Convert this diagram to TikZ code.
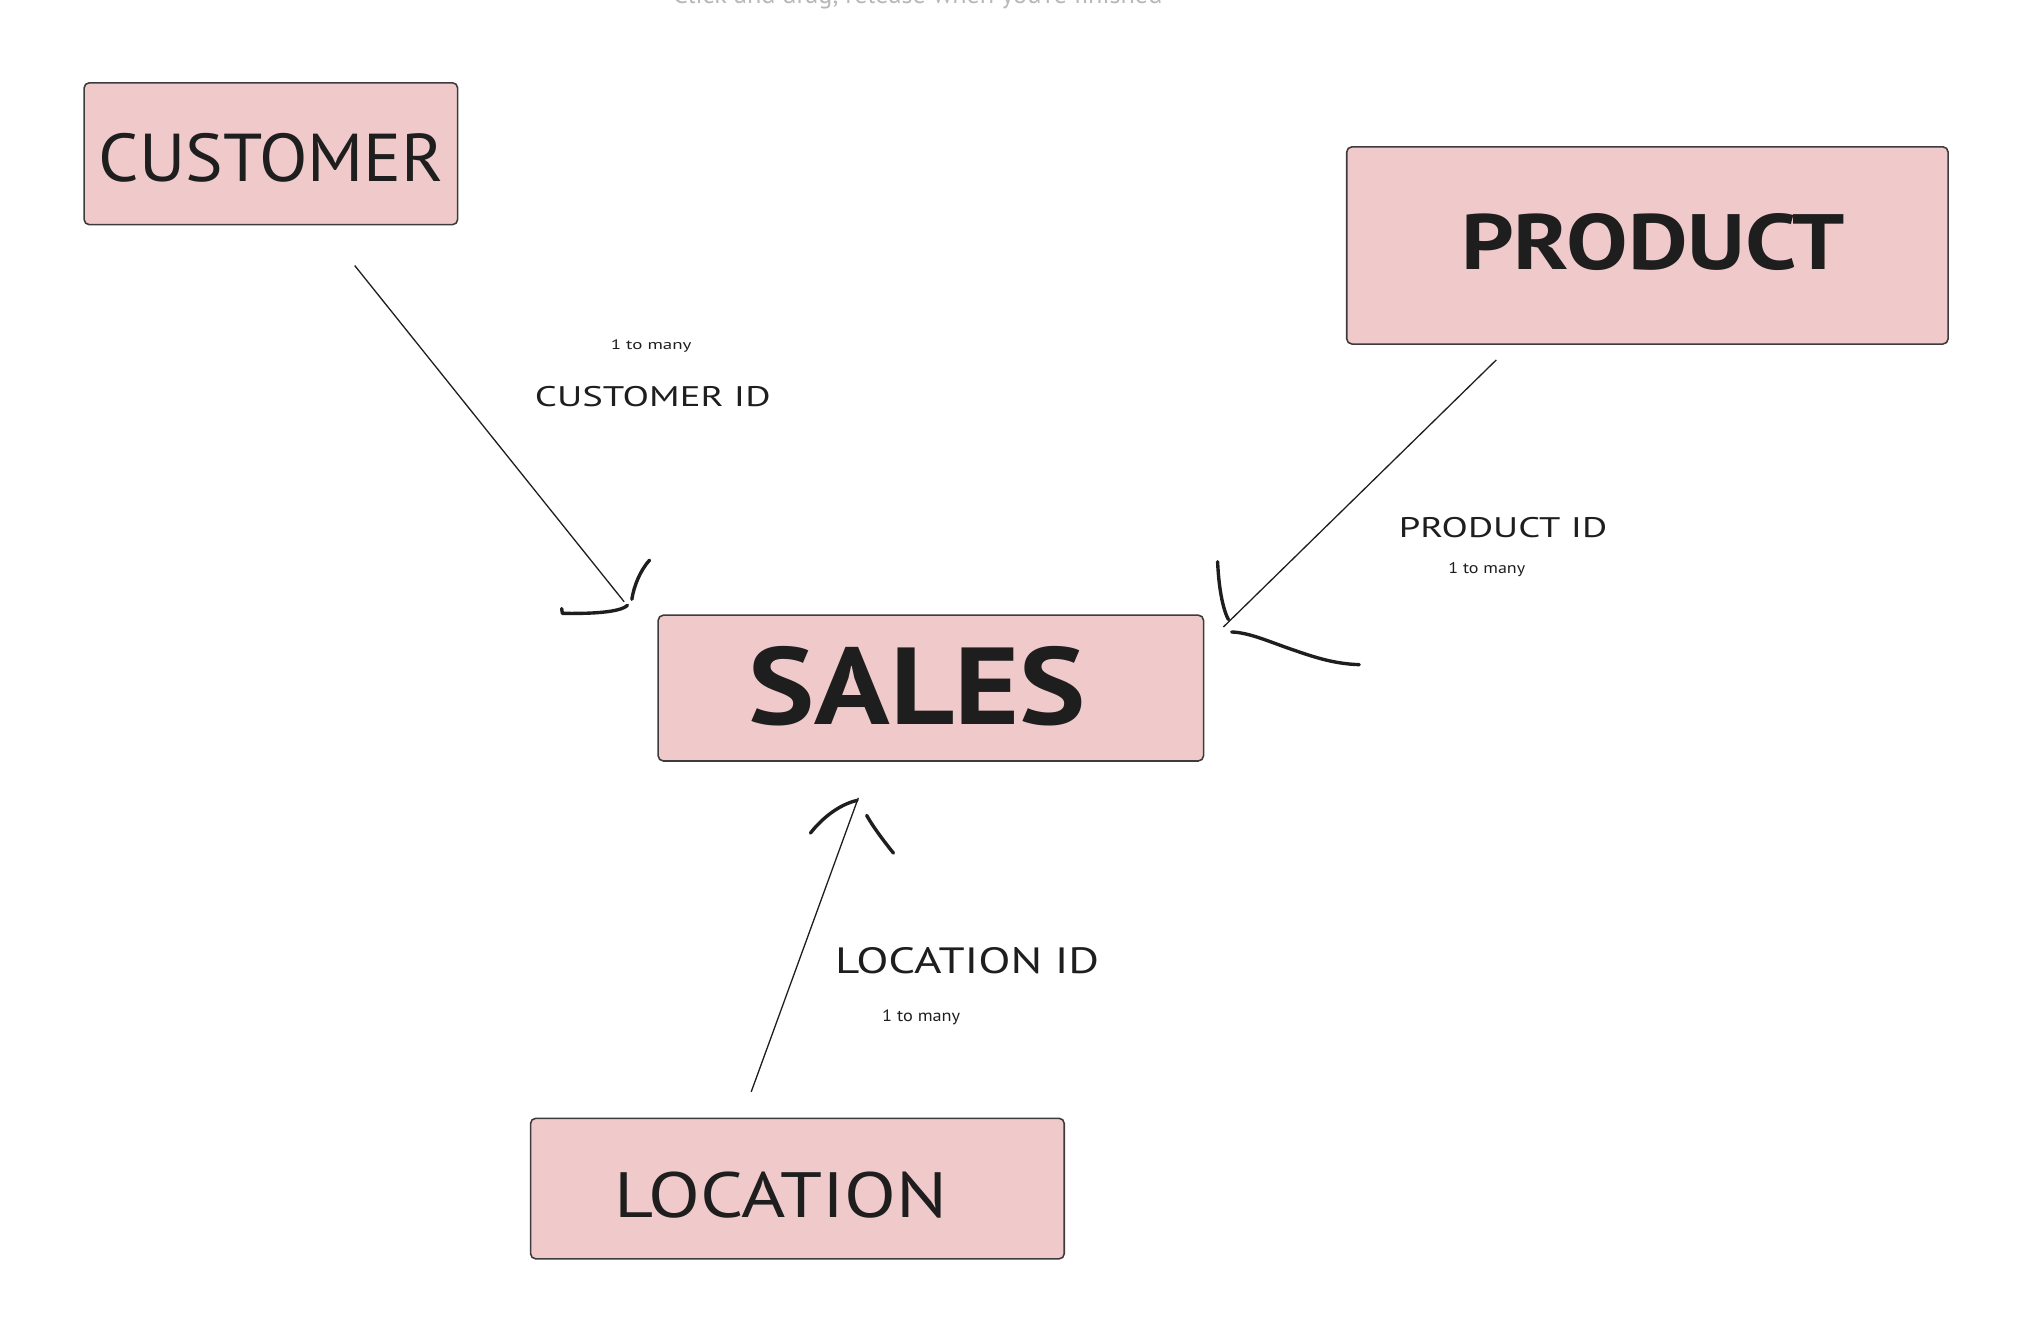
\documentclass[tikz,border=0pt]{standalone}
\usepackage{fontspec}
\setmainfont{PT Sans}
\usepackage{graphicx}
\definecolor{boxfill}{HTML}{F0CACA}
\definecolor{boxline}{HTML}{3C3C3C}
\definecolor{ink}{HTML}{1E1E1E}
\definecolor{hint}{HTML}{B8B8B8}
\begin{document}
\begin{tikzpicture}[x=1pt,y=-1pt,
  entity/.style={draw=boxline, fill=boxfill, rounded corners=4pt, line width=1.2pt,
    inner sep=0pt, anchor=north west},
  lbl/.style={inner sep=0pt, text=ink},
  connector/.style={draw=ink, line width=1pt},
  headstroke/.style={draw=ink, line width=2.6pt, line cap=round, line join=round}]
\useasboundingbox (0,0) rectangle (1569.5,1024.8);

% faint hint text at the top (cut off)
\node[inner sep=0pt, text=hint, anchor=base] (hinttxt) at (705,3)
  {\resizebox{376pt}{!}{Click and drag, release when you're finished}};

% entity boxes
\node[entity, minimum width=287pt, minimum height=109pt] (customer) at (64,63) {};
\node[entity, minimum width=462pt, minimum height=151.5pt] (product) at (1034,112.2) {};
\node[entity, minimum width=419pt, minimum height=112pt] (sales) at (505,472) {};
\node[entity, minimum width=410pt, minimum height=108pt] (location) at (407,858.5) {};

% entity names
\node[lbl] (customertxt) at (208.5,121.4) {\resizebox{265pt}{37pt}{CUSTOMER}};
\node[lbl] (producttxt) at (1270,186.2) {\resizebox{295pt}{43pt}{\bfseries PRODUCT}};
\node[lbl] (salestxt) at (704.7,527) {\resizebox{259pt}{60pt}{\bfseries SALES}};
\node[lbl] (locationtxt) at (600,918) {\resizebox{256pt}{35pt}{LOCATION}};

% connector end points
\coordinate (c1) at (272.5,204);
\coordinate (c2) at (479.5,462.3);
\coordinate (p1) at (1149.5,276.5);
\coordinate (p2) at (939.8,481.7);
\coordinate (l1) at (577.1,838.8);
\coordinate (l2) at (659.4,612.9);

% connectors
\draw[connector] (c1) -- (c2);
\draw[connector] (p1) -- (p2);
\draw[connector] (l1) -- (l2);

% hand-drawn arrow heads
\draw[headstroke] (431.5,467.5) -- (432,471.2) .. controls (450,471.5) and (476,471) .. (482,465);
\draw[headstroke] (485.4,460.4) .. controls (487,450) and (492,438) .. (499,430.3);
\draw[headstroke] (935.4,431.5) .. controls (936,445) and (938,465) .. (943.7,476);
\draw[headstroke] (946.2,485.5) .. controls (960,486) and (975,493) .. (992.7,499)
  .. controls (1010,505) and (1025,510) .. (1044.2,510.6);
\draw[headstroke] (622.6,640) .. controls (632,628) and (645,618) .. (658.4,614.9);
\draw[headstroke] (665.8,626.4) .. controls (670,634) and (678,645) .. (686.4,655.4);

% connector labels
\node[lbl] (custid) at (501.5,304.5) {\resizebox{181pt}{15.5pt}{CUSTOMER ID}};
\node[lbl, anchor=base west] (custcard) at (469,268.6) {\resizebox{62pt}{7.5pt}{1 to many}};
\node[lbl] (prodid) at (1154.7,405.2) {\resizebox{160pt}{15.5pt}{PRODUCT ID}};
\node[lbl, anchor=base west] (prodcard) at (1112.5,440.2) {\resizebox{59pt}{8.5pt}{1 to many}};
\node[lbl] (locid) at (743,738) {\resizebox{203pt}{20pt}{LOCATION ID}};
\node[lbl, anchor=base west] (loccard) at (677.5,784.7) {\resizebox{60pt}{9pt}{1 to many}};
\end{tikzpicture}
\end{document}
